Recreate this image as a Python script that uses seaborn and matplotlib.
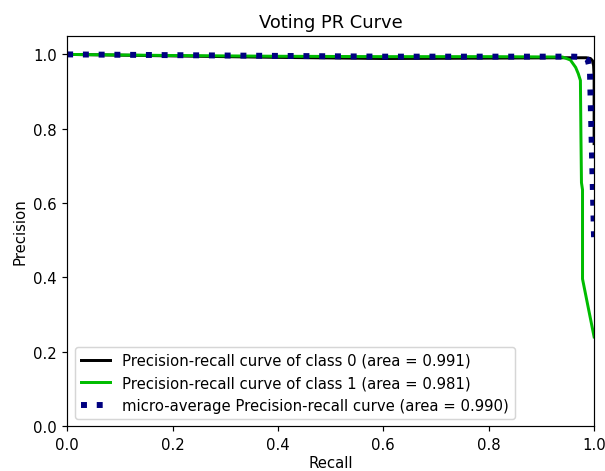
import matplotlib
matplotlib.use("Agg")
import matplotlib.pyplot as plt
import seaborn as sns
import pandas as pd

title = "Voting PR Curve"
x_label = "Recall"
y_label = "Precision"

# class 0
recall_c0 = [0.0, 0.05, 0.2, 0.4, 0.6, 0.8, 0.95, 0.985, 0.993, 0.997, 0.999, 1.0, 1.0]
precision_c0 = [1.0, 0.999, 0.996, 0.992, 0.989, 0.990, 0.991, 0.991, 0.989, 0.983, 0.97, 0.94, 0.76]
label_c0 = "Precision-recall curve of class 0 (area = 0.991)"

# class 1
recall_c1 = [0.0, 0.2, 0.4, 0.6, 0.8, 0.94, 0.955, 0.965, 0.970, 0.974, 0.975, 0.976, 0.978, 0.978, 0.978, 1.0]
precision_c1 = [1.0, 0.997, 0.995, 0.994, 0.994, 0.993, 0.985, 0.965, 0.948, 0.93, 0.78, 0.655, 0.636, 0.55, 0.396, 0.24]
label_c1 = "Precision-recall curve of class 1 (area = 0.981)"

# micro average
recall_micro = [0.0, 0.2, 0.4, 0.6, 0.8, 0.96, 0.98, 0.988, 0.992, 1.0]
precision_micro = [1.0, 0.998, 0.996, 0.994, 0.994, 0.994, 0.993, 0.985, 0.96, 0.5]
label_micro = "micro-average Precision-recall curve (area = 0.990)"

DPI = 107
fig, ax = plt.subplots(figsize=(605 / DPI, 472 / DPI), dpi=DPI)
fig.subplots_adjust(left=0.111, right=0.982, bottom=0.095, top=0.922)

df0 = pd.DataFrame({"r": recall_c0, "p": precision_c0})
df1 = pd.DataFrame({"r": recall_c1, "p": precision_c1})
dfm = pd.DataFrame({"r": recall_micro, "p": precision_micro})

sns.lineplot(data=df0, x="r", y="p", ax=ax, sort=False, estimator=None,
             color="black", lw=2, label=label_c0)
sns.lineplot(data=df1, x="r", y="p", ax=ax, sort=False, estimator=None,
             color=plt.cm.nipy_spectral(0.5), lw=2, label=label_c1)
sns.lineplot(data=dfm, x="r", y="p", ax=ax, sort=False, estimator=None,
             color="navy", lw=4, linestyle=":", label=label_micro)

ax.set_xlim(0.0, 1.0)
ax.set_ylim(0.0, 1.05)
ax.set_title(title, fontsize="large")
ax.set_xlabel(x_label, fontsize="medium", labelpad=2)
ax.set_ylabel(y_label, fontsize="medium")
ax.legend(loc="lower left", fontsize="medium")

fig.savefig("out.png", dpi=DPI)
